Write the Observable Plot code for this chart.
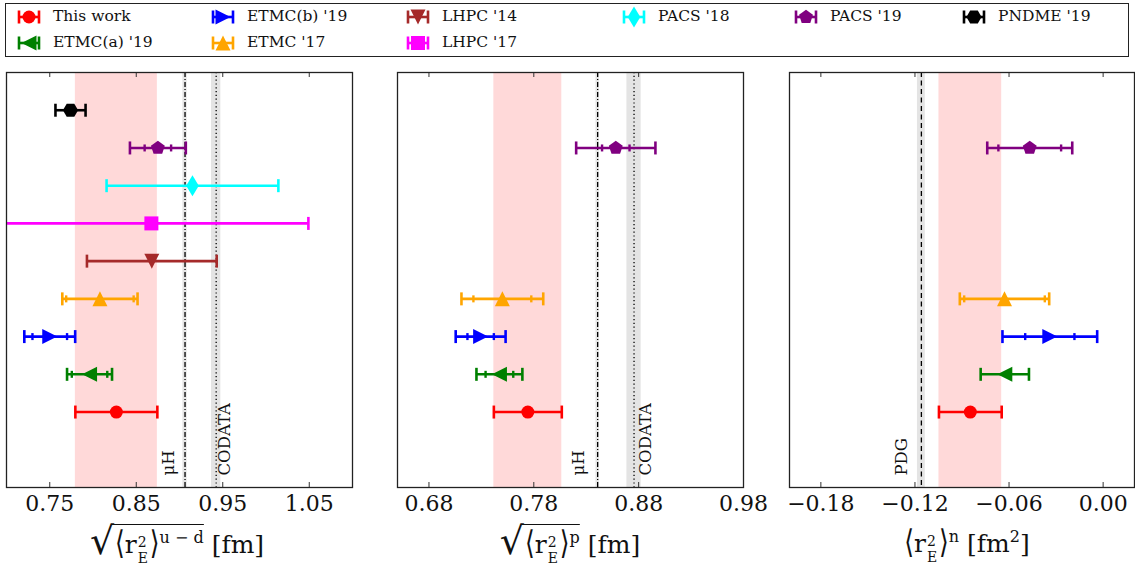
<!DOCTYPE html>
<html><head><meta charset="utf-8">
<script src="https://cdn.jsdelivr.net/npm/d3@7"></script>
<script src="https://cdn.jsdelivr.net/npm/@observablehq/plot@0.6"></script>
<style>
body{margin:0;width:1135px;height:571px;overflow:hidden;background:#fff;font-family:"DejaVu Serif",serif;position:relative;color:#111}
#legend{position:absolute;left:5px;top:3px;width:1122px;height:52px;border:1.5px solid #222;}
.li{position:absolute;font-size:15.5px;white-space:nowrap;line-height:1}
.sw{position:absolute}
.panel{position:absolute;top:70px}
.xl{position:absolute;font-size:25px;white-space:nowrap;transform:translateX(-50%);line-height:1}
.rad{display:inline-block;font-size:38px;line-height:1;vertical-align:-1px;margin-right:0}
.ov{border-top:1.6px solid #111;padding-top:4px;padding-left:2px;display:inline-block;margin-left:-1px}
.br{display:inline-block;transform:scaleY(1.3);transform-origin:50% 65%}
.ss{display:inline-block;position:relative;width:13px;height:24px}
.ss .u{position:absolute;left:1px;top:6px;font-size:14px;line-height:1}
.ss .d{position:absolute;left:1px;top:22px;font-size:14px;line-height:1}
.sp{font-size:16px;vertical-align:10px}
</style></head><body>
<div id="legend"></div>
<div id="p1" class="panel"></div>
<div id="p2" class="panel"></div>
<div id="p3" class="panel"></div>
<div class="xl" style="left:177px;top:522px"><span class="rad">√</span><span class="ov"><span class="br">⟨</span>r<span class="ss"><span class="u">2</span><span class="d">E</span></span><span class="br">⟩</span><span class="sp">u − d</span></span> [fm]</div>
<div class="xl" style="left:570px;top:522px"><span class="rad">√</span><span class="ov"><span class="br">⟨</span>r<span class="ss"><span class="u">2</span><span class="d">E</span></span><span class="br">⟩</span><span class="sp">p</span></span> [fm]</div>
<div class="xl" style="left:967px;top:528px"><span class="br">⟨</span>r<span class="ss"><span class="u">2</span><span class="d">E</span></span><span class="br">⟩</span><span class="sp">n</span> [fm<span class="sp">2</span>]</div>
<script>
// ---------- data ----------
const names   = ["This work","ETMC(a) '19","ETMC(b) '19","ETMC '17","LHPC '14","LHPC '17","PACS '18","PACS '19","PNDME '19"];
const colors  = ["#ff0000","#008000","#0000ff","#ffa500","#a52a2a","#ff00ff","#00ffff","#800080","#000000"];
const markers = ["circle","triL","triR","triU","triD","square","thinDiamond","pentagon","hexagon"];
const rows    = [0,1,2,3,4,5,6,7,8];

// panel 1: sqrt(<r_E^2>^{u-d}) [fm]
const udCenter = [0.827, 0.796, 0.750, 0.808, 0.868, 0.8675, 0.915, 0.875, 0.774];
const udTotal  = [0.0474, 0.026, 0.0294, 0.0435, 0.075, 0.1815, 0.0993, 0.0323, 0.0174];
const udStat   = [null, 0.0205, 0.020, 0.039, null, null, null, 0.0153, null];
const udTicks  = [0.75, 0.85, 0.95, 1.05];
const udDomain = [0.70, 1.10];

// panel 2: sqrt(<r_E^2>^p) [fm]
const pCenter = [0.7743, 0.7472, 0.7293, 0.750, null, null, null, 0.8582, null];
const pTotal  = [0.0324, 0.0219, 0.0238, 0.039, null, null, null, 0.0378, null];
const pStat   = [null, 0.0132, 0.0126, 0.0276, null, null, null, 0.0131, null];
const pTicks  = [0.68, 0.78, 0.88, 0.98];
const pDomain = [0.65, 0.98];

// panel 3: <r_E^2>^n [fm^2]
const nCenter = [-0.0847, -0.0627, -0.034, -0.0629, null, null, null, -0.0468, null];
const nTotal  = [0.020, 0.0154, 0.0302, 0.0285, null, null, null, 0.0271, null];
const nStat   = [null, null, 0.0157, 0.0257, null, null, null, 0.020, null];
const nTicks  = [-0.18, -0.12, -0.06, 0.00];
const nDomain = [-0.20, 0.02];

// reference values
const udRefs = [{label:"μH", v:0.9064, e:0.0025, dash:"5,2,1,2", dx:-11},
                {label:"CODATA", v:0.9424, e:0.0054, dash:"1.2,2.6", dx:14}];
const pRefs  = [{label:"μH", v:0.8409, e:0.0016, dash:"5,2,1,2", dx:-14},
                {label:"CODATA", v:0.8756, e:0.0068, dash:"1.2,2.6", dx:17}];
const nRefs  = [{label:"PDG", v:-0.1159, e:0.0025, dash:"5,3.5", dx:-14}];

// ---------- symbols ----------
function poly(c, pts){ pts.forEach((p,i)=> i ? c.lineTo(p[0],p[1]) : c.moveTo(p[0],p[1])); c.closePath(); }
function reg(n, r, a0){ return d3.range(n).map(i=>{const a=a0+i*2*Math.PI/n; return [r*Math.cos(a), r*Math.sin(a)];}); }
const SYM = {
  circle:{draw(c){const r=6.5;c.moveTo(r,0);c.arc(0,0,r,0,2*Math.PI);c.closePath();}},
  triU:{draw(c){const h=7.5;poly(c,[[0,-h],[h,h],[-h,h]]);}},
  triD:{draw(c){const h=7.5;poly(c,[[0,h],[h,-h],[-h,-h]]);}},
  triL:{draw(c){const h=7.5;poly(c,[[-h,0],[h,-h],[h,h]]);}},
  triR:{draw(c){const h=7.5;poly(c,[[h,0],[-h,-h],[-h,h]]);}},
  square:{draw(c){const h=7;poly(c,[[-h,-h],[h,-h],[h,h],[-h,h]]);}},
  thinDiamond:{draw(c){poly(c,[[0,-10.5],[6.3,0],[0,10.5],[-6.3,0]]);}},
  pentagon:{draw(c){poly(c,reg(5,7.3,-Math.PI/2));}},
  hexagon:{draw(c){poly(c,reg(6,7.6,0));}}
};
const capOuter = {draw(c){c.moveTo(0,-6.5);c.lineTo(0,6.5);}};
const capInner = {draw(c){c.moveTo(0,-3.5);c.lineTo(0,3.5);}};

// ---------- panels ----------
const frameTop = 72, frameBottom = 487, frameH = frameBottom - frameTop;
function panel(id, {domain, ticks, center, total, stat, refs, fl, fr}) {
  const mL = 34, mR = 34, mT = 2, mB = 48;
  const data = rows.map((r,i)=>({row:r, c:center[i], t:total[i], s:stat[i], color:colors[i], sym:markers[i]}))
                   .filter(d=>d.c!=null);
  const me = data.find(d=>d.row===0);
  const marks = [
    Plot.rect([me], {x1:d=>d.c-d.t, x2:d=>d.c+d.t, fill:"#ffd9d9"}),
    ...refs.map(r=>Plot.rect([r], {x1:d=>d.v-d.e, x2:d=>d.v+d.e, fill:"#e4e4e4"})),
    ...refs.map(r=>Plot.ruleX([r], {x:"v", stroke:"#000", strokeWidth:1.3, strokeDasharray:r.dash})),
    ...refs.map(r=>Plot.text([r], {x:"v", frameAnchor:"bottom", text:"label", rotate:-90, textAnchor:"start",
                                    dx:r.dx, dy:-12, fontSize:16.5, fill:"#111", fontFamily:"DejaVu Serif"})),
  ];
  for (const d of data) {
    marks.push(Plot.ruleY([d], {y:"row", x1:e=>e.c-e.t, x2:e=>e.c+e.t, stroke:d.color, strokeWidth:2.6, clip:true}));
    marks.push(Plot.dot([d], {x:e=>e.c-e.t, y:"row", symbol:capOuter, fill:"none", stroke:d.color, strokeWidth:2.6, clip:true}));
    marks.push(Plot.dot([d], {x:e=>e.c+e.t, y:"row", symbol:capOuter, fill:"none", stroke:d.color, strokeWidth:2.6, clip:true}));
    if (d.s != null) {
      marks.push(Plot.dot([d], {x:e=>e.c-e.s, y:"row", symbol:capInner, fill:"none", stroke:d.color, strokeWidth:2.4}));
      marks.push(Plot.dot([d], {x:e=>e.c+e.s, y:"row", symbol:capInner, fill:"none", stroke:d.color, strokeWidth:2.4}));
    }
    marks.push(Plot.dot([d], {x:"c", y:"row", symbol:SYM[d.sym], fill:d.color, stroke:"none"}));
  }
  marks.push(
    Plot.ruleX(ticks, {x:t=>t, insetBottom:frameH-5, stroke:"#333", strokeWidth:1}),
    Plot.ruleX(ticks, {x:t=>t, insetTop:frameH-5, stroke:"#333", strokeWidth:1}),
    Plot.frame({stroke:"#222", strokeWidth:1.3}),
    Plot.axisX(ticks, {tickFormat:d3.format(".2f"), tickSize:0, tickPadding:8, fontSize:22, label:null, fill:"#111", fontFamily:"DejaVu Serif"})
  );
  const svg = Plot.plot({
    width: fr - fl + mL + mR, height: frameH + mT + mB,
    marginLeft:mL, marginRight:mR, marginTop:mT, marginBottom:mB,
    x:{domain}, y:{domain:[-2, 9], axis:null},
    style:{fontFamily:"DejaVu Serif", background:"transparent", overflow:"visible", maxWidth:"none"},
    marks
  });
  const el = document.getElementById(id);
  el.style.left = (fl - mL) + "px";
  el.style.top = (frameTop - mT) + "px";
  el.style.width = (fr - fl + mL + mR) + "px";
  el.appendChild(svg);
}
panel("p1", {domain:udDomain, ticks:udTicks, center:udCenter, total:udTotal, stat:udStat, refs:udRefs, fl:6, fr:352});
panel("p2", {domain:pDomain, ticks:pTicks, center:pCenter, total:pTotal, stat:pStat, refs:pRefs, fl:397, fr:743});
panel("p3", {domain:nDomain, ticks:nTicks, center:nCenter, total:nTotal, stat:nStat, refs:nRefs, fl:789, fr:1134});

// ---------- legend ----------
const legCols = [[0,1],[2,3],[4,5],[6],[7],[8]];
const legMarkX = [23, 217, 412, 628, 800, 968];
const legRowY = [13, 39];
const leg = document.getElementById("legend");
legCols.forEach((col, ci) => col.forEach((idx, ri) => {
  const cx = legMarkX[ci], cy = legRowY[ri];
  const svg = d3.create("svg").attr("class","sw").attr("width",30).attr("height",24)
    .style("left",(cx-15)+"px").style("top",(cy-12)+"px");
  const g = svg.append("g").attr("transform","translate(15,12)");
  g.append("line").attr("x1",-10).attr("x2",10).attr("stroke",colors[idx]).attr("stroke-width",2.6);
  const cp = d3.path(); capOuter.draw(cp);
  g.append("path").attr("d",cp.toString()).attr("transform","translate(-10,0)").attr("stroke",colors[idx]).attr("stroke-width",2.6);
  g.append("path").attr("d",cp.toString()).attr("transform","translate(10,0)").attr("stroke",colors[idx]).attr("stroke-width",2.6);
  const mp = d3.path(); SYM[markers[idx]].draw(mp);
  g.append("path").attr("d",mp.toString()).attr("fill",colors[idx]);
  leg.appendChild(svg.node());
  const t = document.createElement("div");
  t.className = "li"; t.textContent = names[idx];
  t.style.left = (cx+24)+"px"; t.style.top = (cy-8)+"px";
  leg.appendChild(t);
}));
</script>
</body></html>
